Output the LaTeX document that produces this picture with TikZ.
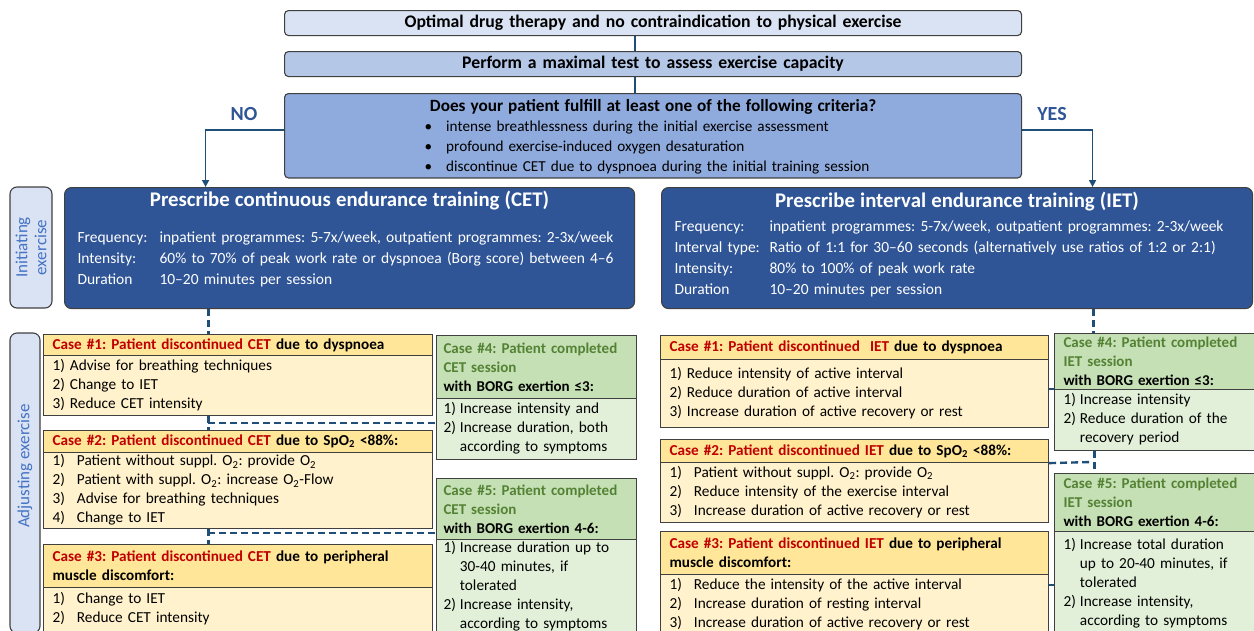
\documentclass[tikz,border=0pt]{standalone}
\usepackage{fontspec}
\setmainfont{Carlito}
\usetikzlibrary{arrows.meta}
\definecolor{edge}{RGB}{64,64,64}
\definecolor{flow}{RGB}{31,78,121}
\definecolor{topA}{RGB}{218,227,243}
\definecolor{topB}{RGB}{180,199,231}
\definecolor{topC}{RGB}{143,170,220}
\definecolor{trainblue}{RGB}{47,85,151}
\definecolor{goldh}{RGB}{255,230,153}
\definecolor{goldb}{RGB}{255,242,204}
\definecolor{greenh}{RGB}{197,224,180}
\definecolor{greenb}{RGB}{226,240,217}
\definecolor{stopred}{RGB}{192,0,0}
\definecolor{okgreen}{RGB}{84,130,53}
\definecolor{sidetext}{RGB}{68,114,196}
\frenchspacing
\hyphenpenalty=10000
\newcommand\steps[2]{\begin{tabular}{@{}l@{\hspace{#1}}l@{}}#2\end{tabular}}
\begin{document}
\begin{tikzpicture}[x=1pt,y=-1pt]
\useasboundingbox (0,0) rectangle (1254,630);
\begin{scope}[
  box/.style={draw=edge,line width=1.1pt,anchor=north west,inner xsep=9pt,inner ysep=0pt,
              align=left,font=\fontsize{15.3}{19}\selectfont},
  headbox/.style={box,rounded corners=4pt,text width=719pt,minimum height=25pt,align=center,
              font=\fontsize{17.7}{19}\selectfont\bfseries},
  train/.style={box,rounded corners=7pt,fill=trainblue,text=white,inner xsep=13pt,
              minimum height=121pt,font=\fontsize{15.5}{21}\selectfont},
  side/.style={draw=edge,line width=1.1pt,rounded corners=7pt,fill=topA,text=sidetext,
              rotate=90,align=center,inner sep=0pt,font=\fontsize{17}{19}\selectfont},
  stoph/.style={box,fill=goldh,font=\fontsize{15.2}{19}\selectfont\bfseries},
  stopb/.style={box,fill=goldb},
  okh/.style={box,fill=greenh,font=\fontsize{15}{19}\selectfont\bfseries},
  okb/.style={box,fill=greenb},
  wire/.style={draw=flow,line width=1.6pt},
  link/.style={wire,line width=2.4pt,dash pattern=on 7pt off 4pt},
  arr/.style={wire,-{Triangle[width=7pt,length=7pt]}},
  answer/.style={text=trainblue,font=\fontsize{20}{22}\selectfont\bfseries}]
    \node [headbox,fill=topA] (1) at (284,10) {Optimal drug therapy and no contraindication to physical exercise};
    \node [headbox,fill=topB] (2) at (284,51) {Perform a maximal test to assess exercise capacity};
    \node [headbox,fill=topC,minimum height=80pt,font=\fontsize{15.2}{20}\selectfont] (3) at (284,93)
      {{\fontsize{17.2}{20}\selectfont\bfseries\rule{0pt}{17.5pt}Does your patient fulfill at least one of the following criteria?}\\[3pt]
       \hspace*{-12pt}\steps{14pt}{• & intense breathlessness during the initial exercise assessment\\
       • & profound exercise-induced oxygen desaturation\\
       • & discontinue CET due to dyspnoea during the initial training session}};
    \node [answer] (no) at (244,114) {NO};
    \node [answer] (yes) at (1052,114) {YES};
    \node [train,text width=544pt] (4) at (64,187)
      {\makebox[\hsize]{\fontsize{20.8}{24}\selectfont\bfseries Prescribe continuous endurance training (CET)}\\[15pt]
       \begin{tabular}[t]{@{}p{82pt}@{}l@{}}
       Frequency: & inpatient programmes: 5-7x/week, outpatient programmes: 2-3x/week\\
       Intensity: & 60\% to 70\% of peak work rate or dyspnoea (Borg score) between 4–6\\
       Duration & 10–20 minutes per session\\[14pt]
       \end{tabular}};
    \node [train,text width=565pt] (5) at (661,187)
      {\makebox[\hsize]{\fontsize{20.8}{24}\selectfont\bfseries Prescribe interval endurance training (IET)}\\[3pt]
       \begin{tabular}[t]{@{}p{95pt}@{}l@{}}
       Frequency: & inpatient programmes: 5-7x/week, outpatient programmes: 2-3x/week\\
       Interval type: & Ratio of 1:1 for 30–60 seconds (alternatively use ratios of 1:2 or 2:1)\\
       Intensity: & 80\% to 100\% of peak work rate\\
       Duration & 10–20 minutes per session\\[3pt]
       \end{tabular}};
    \node [side,minimum width=121pt,minimum height=42pt] (6) at (31,247.5) {Initiating\\exercise};
    \node [side,minimum width=300pt,minimum height=30pt] (7) at (25,483) {\hspace*{34pt}Adjusting exercise};
    \node [stoph,text width=371pt,minimum height=21pt] (c1h) at (43,334)
      {\textcolor{stopred}{Case \#1: Patient discontinued CET} due to dyspnoea};
    \node [stopb,text width=371pt,minimum height=60pt] (c1b) at (43,355)
      {\steps{5pt}{1) & Advise for breathing techniques\\ 2) & Change to IET\\ 3) & Reduce CET intensity}};
    \node [stoph,text width=371pt,minimum height=22pt] (c2h) at (43,430)
      {\textcolor{stopred}{Case \#2: Patient discontinued CET} due to SpO\textsubscript{2} <88\%:};
    \node [stopb,text width=371pt,minimum height=76pt] (c2b) at (43,452)
      {\steps{12pt}{1) & Patient without suppl. O\textsubscript{2}: provide O\textsubscript{2}\\
       2) & Patient with suppl. O\textsubscript{2}: increase O\textsubscript{2}-Flow\\
       3) & Advise for breathing techniques\\ 4) & Change to IET}};
    \node [stoph,text width=371pt,minimum height=43pt] (c3h) at (43,544)
      {\textcolor{stopred}{Case \#3: Patient discontinued CET} due to peripheral\\muscle discomfort:};
    \node [stopb,text width=371pt,inner ysep=3pt] (c3b) at (43,587)
      {\steps{12pt}{1) & Change to IET\\ 2) & Reduce CET intensity\\[30pt]}};
    \node [okh,text width=186pt,inner xsep=7pt,minimum height=63pt] (c4h) at (436,335)
      {\textcolor{okgreen}{Case \#4: Patient completed}\\\textcolor{okgreen}{CET session}\\with BORG exertion ≤3:};
    \node [okb,text width=186pt,inner xsep=7pt,minimum height=61pt] (c4b) at (436,398)
      {\steps{4pt}{1) & Increase intensity and\\ 2) & Increase duration, both\\ & according to symptoms}};
    \node [okh,text width=186pt,inner xsep=7pt,minimum height=62pt] (c5h) at (436,478)
      {\textcolor{okgreen}{Case \#5: Patient completed}\\\textcolor{okgreen}{CET session}\\with BORG exertion 4-6:};
    \node [okb,text width=186pt,inner xsep=7pt,inner ysep=0pt] (c5b) at (436,539)
      {\steps{4pt}{1) & Increase duration up to\\ & 30-40 minutes, if\\ & tolerated\\
       2) & Increase intensity,\\ & according to symptoms\\[30pt]}};
    \node [stoph,text width=370pt,minimum height=24pt] (r1h) at (660,335)
      {\textcolor{stopred}{Case \#1: Patient discontinued\ \ IET} due to dyspnoea};
    \node [stopb,text width=370pt,minimum height=68pt] (r1b) at (660,359)
      {\steps{5pt}{1) & Reduce intensity of active interval\\ 2) & Reduce duration of active interval\\
       3) & Increase duration of active recovery or rest}};
    \node [stoph,text width=370pt,minimum height=23pt] (r2h) at (660,439)
      {\textcolor{stopred}{Case \#2: Patient discontinued IET} due to SpO\textsubscript{2} <88\%:};
    \node [stopb,text width=370pt,minimum height=60pt] (r2b) at (660,462)
      {\steps{12pt}{1) & Patient without suppl. O\textsubscript{2}: provide O\textsubscript{2}\\
       2) & Reduce intensity of the exercise interval\\ 3) & Increase duration of active recovery or rest}};
    \node [stoph,text width=370pt,minimum height=43pt] (r3h) at (660,531)
      {\textcolor{stopred}{Case \#3: Patient discontinued IET} due to peripheral\\muscle discomfort:};
    \node [stopb,text width=370pt,inner ysep=2pt] (r3b) at (660,574)
      {\steps{12pt}{1) & Reduce the intensity of the active interval\\ 2) & Increase duration of resting interval\\
       3) & Increase duration of active recovery or rest\\[30pt]}};
    \node [okh,text width=189pt,inner xsep=9pt,minimum height=56pt] (r4h) at (1054,333)
      {\textcolor{okgreen}{Case \#4: Patient completed}\\\textcolor{okgreen}{IET session}\\with BORG exertion ≤3:};
    \node [okb,text width=189pt,inner xsep=9pt,minimum height=61pt] (r4b) at (1054,389)
      {\steps{4pt}{1) & Increase intensity\\ 2) & Reduce duration of the\\ & recovery period}};
    \node [okh,text width=189pt,inner xsep=9pt,minimum height=58pt] (r5h) at (1054,473)
      {\textcolor{okgreen}{Case \#5: Patient completed}\\\textcolor{okgreen}{IET session}\\with BORG exertion 4-6:};
    \node [okb,text width=189pt,inner xsep=9pt,inner ysep=5pt] (r5b) at (1054,531)
      {\steps{4pt}{1) & Increase total duration\\ & up to 20-40 minutes, if\\ & tolerated\\
       2) & Increase intensity,\\ & according to symptoms\\[30pt]}};
    \coordinate (j1) at (208,423);
    \coordinate (j2) at (208,533);
    \coordinate (j3) at (1093,462);
    \draw [wire] ([xshift=-18pt]1.south) -- ([xshift=-18pt]2.north);
    \draw [wire] ([xshift=-18pt]2.south) -- ([xshift=-18pt]3.north);
    \draw [arr] ([yshift=6pt]3.west) -| ([xshift=-144pt]4.north);
    \draw [arr] ([yshift=6pt]3.east) -| ([xshift=135.5pt]5.north);
    \draw [link] ([xshift=-141pt]4.south) -- ([xshift=-141pt]4.south |- c1h.north);
    \draw [link] ([xshift=-29.5pt]c1b.south) -- ([xshift=-29.5pt]c2h.north);
    \draw [link] ([xshift=-29.5pt]c2b.south) -- ([xshift=-29.5pt]c3h.north);
    \draw [link] (j1) -- (j1 -| c4b.west);
    \draw [link] (j2) -- (j2 -| c5h.west);
    \draw [link] ([xshift=136.5pt]5.south) -- ([xshift=136.5pt]5.south |- r4h.north);
    \draw [wire] (r4b.north west -| r1b.east) -- (r4b.north west);
    \draw [link] (r2h.south east) -- (j3);
    \draw [link] ([xshift=-63.5pt]r4b.south) -- ([xshift=-63.5pt]r5h.north);
    \draw [wire] ([yshift=-11pt]r3b.north east) -- ([yshift=-11pt]r3b.north east -| r5b.west);
\end{scope}
\end{tikzpicture}
\end{document}
